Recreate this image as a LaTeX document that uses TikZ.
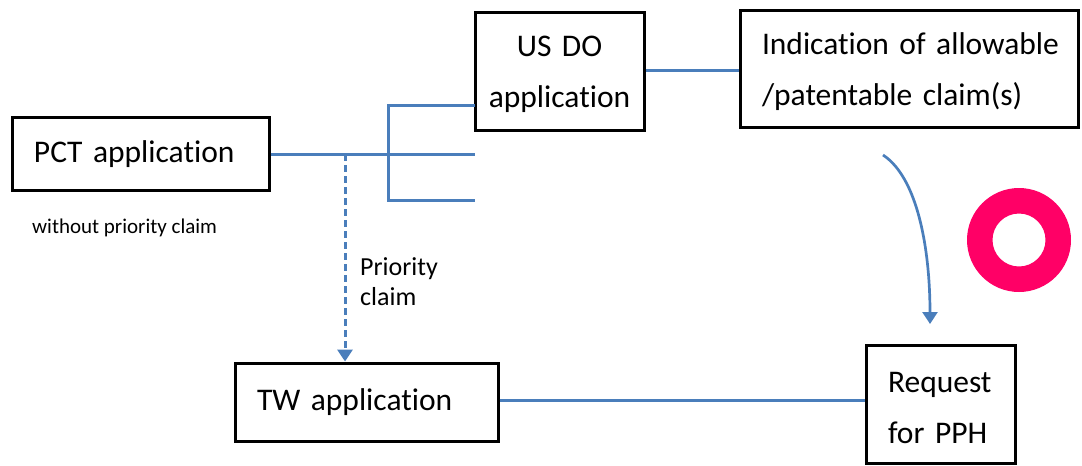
\documentclass[tikz,border=0pt]{standalone}
\usepackage{fontspec}
\setmainfont{Carlito}[Ligatures=NoCommon]
\usetikzlibrary{arrows.meta}
\definecolor{lineblue}{RGB}{74,126,187}
\definecolor{ringpink}{RGB}{255,0,102}
\begin{document}
\begin{tikzpicture}[x=1pt,y=-1pt,
  box/.style={draw=black, line width=3pt, inner sep=0pt, rectangle, font=\fontsize{31.5}{51}\selectfont},
  conn/.style={draw=lineblue, line width=3pt},
  lbl/.style={inner sep=0pt, align=left}]
\useasboundingbox (0,0) rectangle (1082,466);
% boxes
\node[box, minimum width=257pt, minimum height=73pt, text width=213pt, align=left] (pct) at (140.5,154) {\mbox{PCT application}};
\node[box, minimum width=169pt, minimum height=118pt, text width=160pt, align=center] (usdo) at (559.5,71) {\rule{0pt}{28pt}US DO\\application};
\node[box, minimum width=338pt, minimum height=117pt, text width=294pt, align=left] (ind) at (909,68.5) {\rule{0pt}{28pt}\mbox{Indication of allowable}\\\mbox{/patentable claim(s)}};
\node[box, minimum width=263pt, minimum height=78pt, text width=219pt, align=left] (tw) at (366.5,402) {\mbox{TW application}};
\node[box, minimum width=149pt, minimum height=118pt, text width=105pt, align=left] (req) at (940.5,404) {\rule{0pt}{28pt}\mbox{Request}\\\mbox{for PPH}};
% labels
\node[lbl, anchor=west, font=\fontsize{21}{25}\selectfont] (wopc) at (32,228) {without priority claim};
\node[lbl, anchor=north west, font=\fontsize{26}{30}\selectfont] (prc) at (360,257) {Priority\\claim};
% bracket
\coordinate (b1) at (475,105);
\coordinate (b2) at (475,154);
\coordinate (b3) at (475,200);
\coordinate (bt) at (388,105);
\coordinate (bb) at (388,200);
\coordinate (pd) at (345,154);
\draw[conn] (pct.east |- b2) -- (b2);
\draw[conn] (b1) -- (bt) -- (bb) -- (b3);
\draw[conn, dash pattern=on 7pt off 4pt, -{Triangle[width=15pt,length=12pt]}] (pd) -- (pd |- tw.north);
\draw[conn] (usdo.east |- 0,70) -- (ind.west |- 0,70);
\draw[conn] (tw.east |- 0,400) -- (req.west |- 0,400);
% curved arrow
\coordinate (cs) at (883,155);
\coordinate (ce) at (930,324);
\draw[conn, line width=2.7pt, -{Triangle[width=15pt,length=12pt]}] (cs) .. controls (918,178) and (930,250) .. (ce);
% ring
\fill[ringpink, even odd rule] (1019,240) circle[radius=52pt] (1019,240) circle[radius=26.5pt];
\end{tikzpicture}
\end{document}
